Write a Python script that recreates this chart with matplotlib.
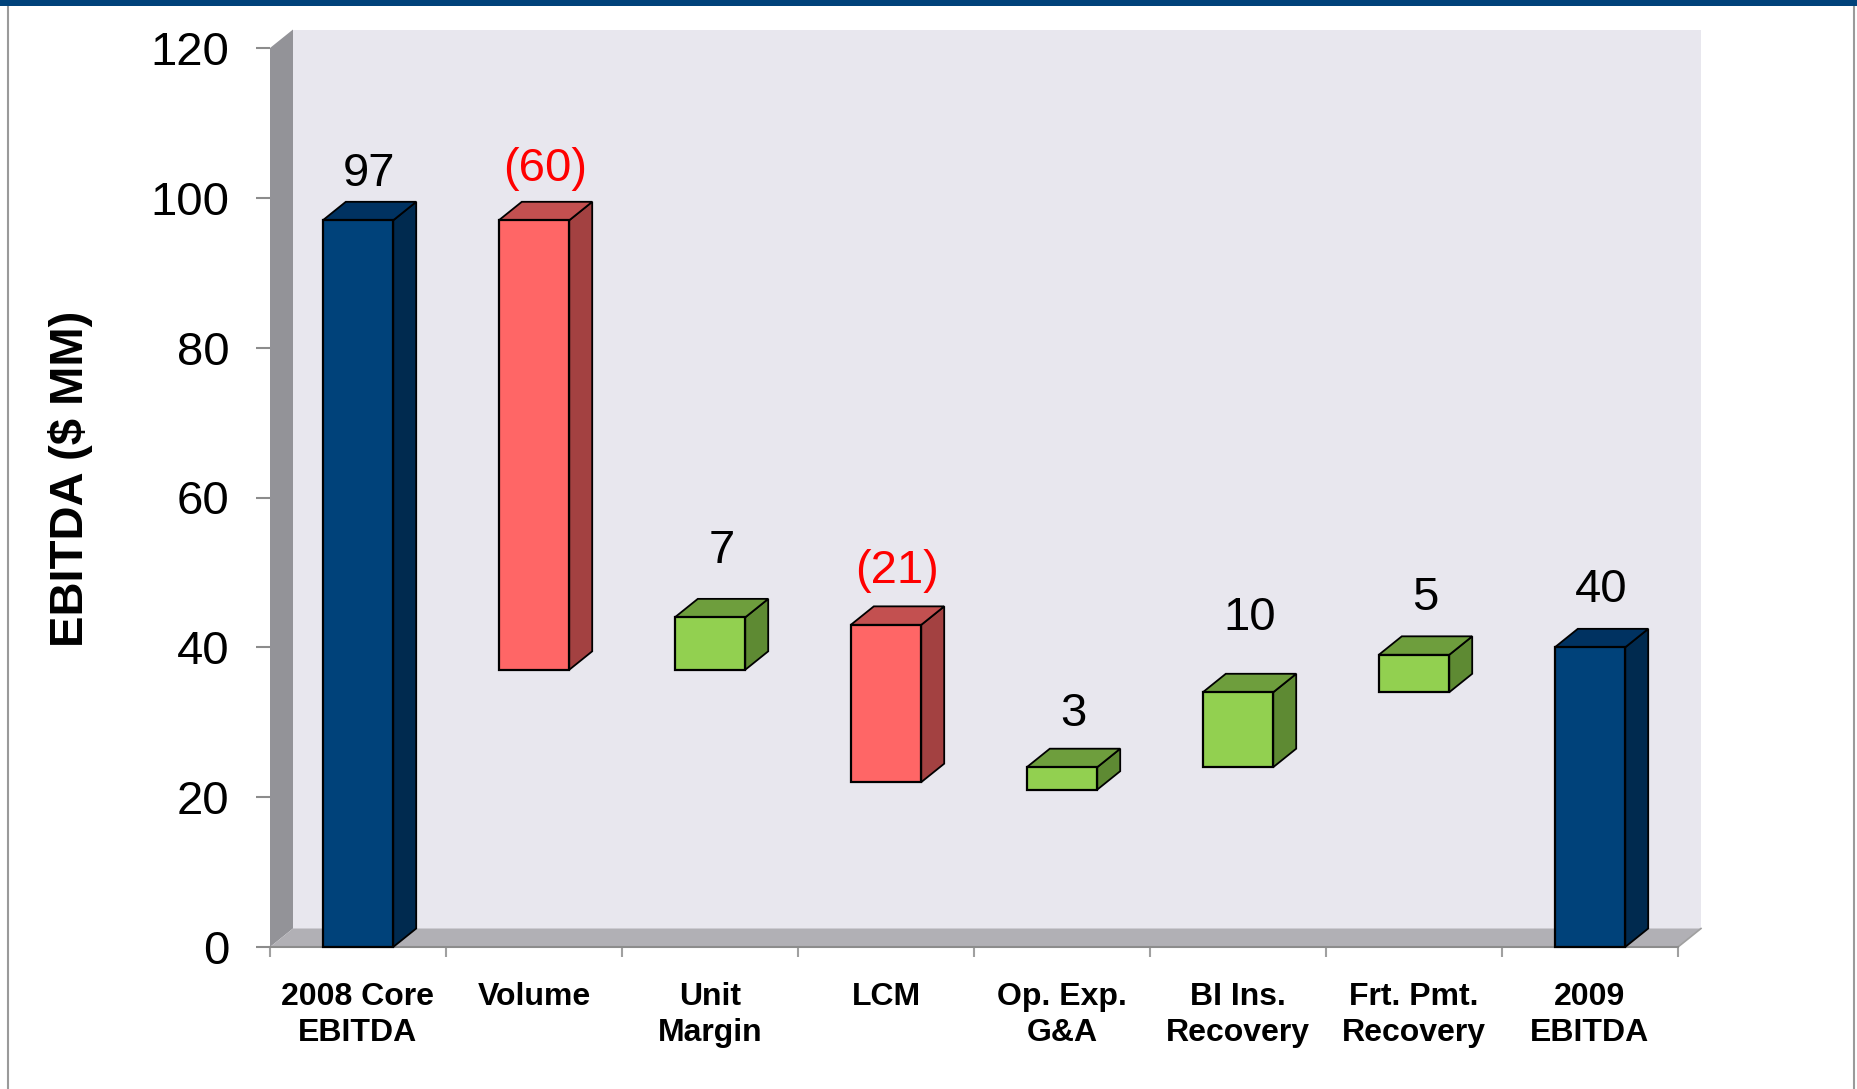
import matplotlib
matplotlib.use("Agg")
import matplotlib.pyplot as plt
from matplotlib.patches import Polygon, Rectangle
from matplotlib.lines import Line2D

# ---- data -------------------------------------------------------------
categories = ["2008 Core\nEBITDA", "Volume", "Unit\nMargin", "LCM",
              "Op. Exp.\nG&A", "BI Ins.\nRecovery", "Frt. Pmt.\nRecovery",
              "2009\nEBITDA"]
changes = [97, -60, 7, -21, 3, 10, 5, 40]          # $ MM
bases = [0, 37, 37, 22, 21, 24, 34, 0]             # bottom of each floating bar
kinds = ["total", "down", "up", "down", "up", "up", "up", "total"]
y_ticks = [0, 20, 40, 60, 80, 100, 120]

# ---- style ------------------------------------------------------------
plt.rcParams['font.family'] = ['Liberation Sans', 'DejaVu Sans']

face = {"total": ("#00427A", "#003261", "#002A4F"),
        "down": ("#FF6666", "#C35050", "#A34141"),
        "up": ("#92D050", "#6E9E3D", "#5E8A33")}
label_color = {"total": "black", "down": "#FF0000", "up": "black"}
label_gap_px = [16, 21, 36, 23, 23, 44, 26, 27]

W, H = 1858, 1089
fig = plt.figure(figsize=(W / 100, H / 100), dpi=100)
fig.patch.set_facecolor("white")

# front plane of the 3-D plot
left_px, right_px, top_px, bottom_px = 270, 1678, 48, 947
ax = fig.add_axes([left_px / W, 1 - bottom_px / H,
                   (right_px - left_px) / W, (bottom_px - top_px) / H])
n = len(categories)
ax.set_xlim(0, n)
ax.set_ylim(0, 120)
ax.patch.set_visible(False)

# depth offset of the box, in data units
DX = 23 / ((right_px - left_px) / n)
DY = 18.5 * 120 / (bottom_px - top_px)

# walls and floor
ax.add_patch(Polygon([(DX, DY), (n + DX, DY), (n + DX, 120 + DY), (DX, 120 + DY)],
                     closed=True, facecolor="#E8E7EE", edgecolor="none",
                     zorder=0, clip_on=False))
ax.add_patch(Polygon([(0, 0), (DX, DY), (DX, 120 + DY), (0, 120)],
                     closed=True, facecolor="#939398", edgecolor="none",
                     zorder=0.5, clip_on=False))
ax.add_patch(Polygon([(0, 0), (n, 0), (n + DX, DY), (DX, DY)],
                     closed=True, facecolor="#B1B0B5", edgecolor="none",
                     zorder=0.5, clip_on=False))
ax.plot([n, n + DX], [0, DY], color="#A0A0A0", lw=1.2, zorder=0.6, clip_on=False)

# bars
bw = 0.4
for i, (chg, b, kind) in enumerate(zip(changes, bases, kinds)):
    t = b + abs(chg)
    x0 = i + 0.5 - bw / 2
    x1 = i + 0.5 + bw / 2
    fc, tc, sc = face[kind]
    ax.add_patch(Polygon([(x1, b), (x1 + DX, b + DY), (x1 + DX, t + DY), (x1, t)],
                         closed=True, facecolor=sc, edgecolor="black", lw=1.3,
                         zorder=3, clip_on=False))
    ax.add_patch(Polygon([(x0, t), (x1, t), (x1 + DX, t + DY), (x0 + DX, t + DY)],
                         closed=True, facecolor=tc, edgecolor="black", lw=1.3,
                         zorder=3, clip_on=False))
    ax.add_patch(Rectangle((x0, b), bw, t - b, facecolor=fc, edgecolor="black",
                           lw=1.6, zorder=4, clip_on=False))
    txt = str(chg) if chg >= 0 else f"({abs(chg)})"
    ax.annotate(txt, xy=(i + 0.5 + DX / 2, t + DY), xytext=(0, label_gap_px[i]),
                textcoords="offset pixels", ha="center", va="baseline",
                fontsize=34, color=label_color[kind], zorder=5,
                annotation_clip=False)

# axes decoration
for s in ("top", "right", "left"):
    ax.spines[s].set_visible(False)
ax.spines["bottom"].set_color("#8C8C8C")
ax.spines["bottom"].set_linewidth(1.5)
ax.spines["bottom"].set_zorder(2)

ax.set_yticks(y_ticks)
ax.set_yticklabels([str(v) for v in y_ticks])
ax.tick_params(axis="y", direction="out", length=10, width=1.5, color="#8C8C8C",
               pad=19, labelsize=34, labelcolor="black")

ax.set_xticks(range(n + 1))
ax.set_xticklabels([""] * (n + 1))
ax.tick_params(axis="x", which="major", direction="out", length=7, width=1.5,
               color="#A0A0A0")
ax.set_xticks([i + 0.5 for i in range(n)], minor=True)
ax.set_xticklabels(categories, minor=True, fontsize=23, fontweight="bold",
                   linespacing=1.27)
ax.tick_params(axis="x", which="minor", length=0, pad=25)

fig.text(71 / W, 1 - 479 / H, "EBITDA ($ MM)", rotation=90, fontsize=34,
         fontweight="bold", ha="center", va="center")

# slide frame
fig.patches.append(Rectangle((0, 1 - 6 / H), 1, 6 / H, transform=fig.transFigure,
                             facecolor="#00427A", edgecolor="none", zorder=10))
fig.lines.append(Line2D([8 / W, 8 / W], [0, 1 - 6 / H], transform=fig.transFigure,
                        color="#9A9A9A", lw=1.5))
fig.lines.append(Line2D([1854 / W, 1854 / W], [0, 1 - 6 / H], transform=fig.transFigure,
                        color="#9A9A9A", lw=1.5))

fig.savefig("out.png", dpi=100, facecolor="white")
